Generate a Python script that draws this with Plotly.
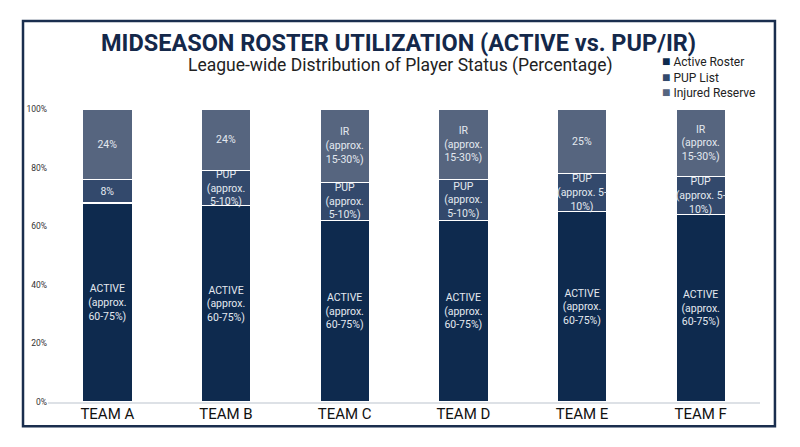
import plotly.graph_objects as go

teams = ["TEAM A", "TEAM B", "TEAM C", "TEAM D", "TEAM E", "TEAM F"]

active_pct = [68, 67, 62, 62, 65, 64]
pup_pct = [8, 12, 13, 14, 13, 13]
ir_pct = [24, 21, 25, 24, 22, 23]

active_txt = ["ACTIVE<br>(approx.<br>60-75%)"] * 6
pup_txt = ["8%", "PUP<br>(approx.<br>5-10%)", "PUP<br>(approx.<br>5-10%)",
           "PUP<br>(approx.<br>5-10%)", "PUP<br>(approx. 5-<br>10%)", "PUP<br>(approx. 5-<br>10%)"]
ir_txt = ["24%", "24%", "IR<br>(approx.<br>15-30%)", "IR<br>(approx.<br>15-30%)",
          "25%", "IR<br>(approx.<br>15-30%)"]

y_ticks = [0, 20, 40, 60, 80, 100]
y_ticktext = ["0%", "20%", "40%", "60%", "80%", "100%"]

series = [
    ("Active Roster", active_pct, active_txt, "#0e2a4e"),
    ("PUP List", pup_pct, pup_txt, "#33496c"),
    ("Injured Reserve", ir_pct, ir_txt, "#56657f"),
]

fig = go.Figure()
for name, vals, txt, col in series:
    fig.add_trace(go.Bar(
        x=teams, y=vals, name=name, text=txt,
        textposition="inside", insidetextanchor="middle", textangle=0,
        constraintext="none",
        textfont=dict(family="Roboto", size=10.5, color="#e4e9f0"),
        marker=dict(color=col, line=dict(color="white", width=1.5)),
        hoverinfo="skip", showlegend=False,
    ))

# legend as one text block (native legend rows are too tall)
legend_lines = ['<span style="color:%s;font-size:14px">■</span> %s' % (s[3], s[0])
                for s in series]
legend_note = dict(
    text="<br>".join(legend_lines),
    xref="paper", yref="paper", x=0.86, y=1.11,
    xanchor="left", yanchor="middle", align="left", showarrow=False,
    font=dict(family="Roboto", size=12, color="#222"))

# page body adds 8px offset; figure is 792x439
fig.update_layout(
    width=792, height=439,
    barmode="stack", bargap=0.58,
    margin=dict(l=40, r=40, t=101, b=45),
    plot_bgcolor="white", paper_bgcolor="white",
    font=dict(family="Roboto", color="#222"),
    showlegend=False,
    xaxis=dict(showline=True, linecolor="#dde1e6", linewidth=1.5,
               tickfont=dict(size=15, color="#111"), ticks="", ticklabelstandoff=-3),
    yaxis=dict(range=[0, 100], tickvals=y_ticks, ticktext=y_ticktext,
               showgrid=False, zeroline=False, showline=False,
               tickfont=dict(size=8.5, color="#333"), ticks=""),
    shapes=[dict(type="rect", xref="paper", yref="paper",
                 x0=-0.0351, x1=1.021, y0=-0.083, y1=1.3,
                 line=dict(color="#1a2e4e", width=2.5), layer="above")],
    annotations=[
        dict(text="<b>MIDSEASON ROSTER UTILIZATION (ACTIVE vs. PUP/IR)</b>",
             xref="paper", yref="paper", x=0.4916, y=1.2255, showarrow=False,
             xanchor="center", yanchor="middle",
             font=dict(family="Roboto", size=23.5, color="#14284a")),
        dict(text="League-wide Distribution of Player Status (Percentage)",
             xref="paper", yref="paper", x=0.4944, y=1.15, showarrow=False,
             xanchor="center", yanchor="middle",
             font=dict(family="Roboto", size=17.5, color="#222")),
        legend_note,
    ],
)

fig.write_html("out.html")
